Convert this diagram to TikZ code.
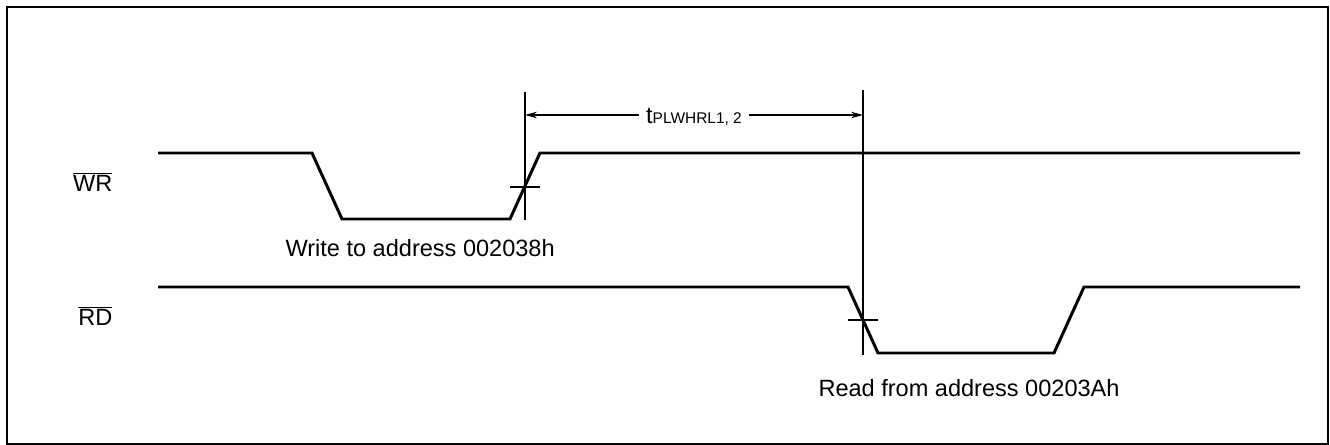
\documentclass[tikz,border=0pt]{standalone}
\usepackage{fontspec}
\setmainfont{Liberation Sans}
\usetikzlibrary{arrows.meta}
\tikzset{
  every picture/.style={x=0.02cm, y=-0.02cm, line width=0.6pt},
  signal/.style={line width=1.7pt, line join=miter},
  marker/.style={line width=0.6pt},
  dim/.style={{Stealth[length=2.4mm, width=1.3mm]}-{Stealth[length=2.4mm, width=1.3mm]}, line width=0.6pt},
  signame/.style={font=\fontsize{13.4}{16}\selectfont, anchor=base east, inner sep=0pt},
  note/.style={font=\fontsize{13.4}{16}\selectfont, anchor=base west, inner sep=0pt},
}
\begin{document}
\begin{tikzpicture}
  \useasboundingbox (0,0) rectangle (1330,445);
  \draw[line width=1.1pt] (7,7) rectangle (1328,444);
  % signal names
  \node[signame] (wr) at (113,192) {$\overline{\mbox{WR}}$};
  \node[signame] (rd) at (113,326) {$\overline{\mbox{RD}}$};
  % waveforms
  \draw[signal] (158,153) -- (312,153) -- (342,219) -- (510,219) -- (540,153) -- (1300,153);
  \draw[signal] (158,287) -- (848,287) -- (878,353) -- (1054,353) -- (1084,287) -- (1300,287);
  % timing references
  \coordinate (wtop) at (525,92);
  \coordinate (wbot) at (525,220);
  \coordinate (rtop) at (863,90);
  \coordinate (rbot) at (863,355);
  \draw[marker] (wtop) -- (wbot);
  \draw[marker] (rtop) -- (rbot);
  \draw[marker] (510,187) -- (540,187);
  \draw[marker] (848,320) -- (878,320);
  \coordinate (wa) at (525,115);
  \coordinate (ra) at (863,115);
  \draw[dim] (wa) -- node[fill=white, inner xsep=4pt, inner ysep=1pt, font=\fontsize{13.4}{16}\selectfont, yshift=-1pt]
    {t{\fontsize{8.8}{10}\selectfont PLWHRL1, 2}} (ra);
  % notes
  \node[note] (wnote) at (285,257) {Write to address 002038h};
  \node[note] (rnote) at (818,397) {Read from address 00203Ah};
\end{tikzpicture}
\end{document}
